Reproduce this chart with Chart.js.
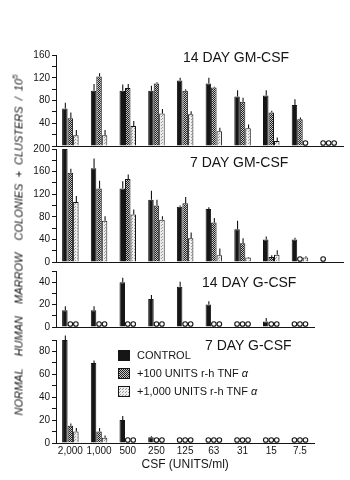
<!DOCTYPE html>
<html><head><meta charset="utf-8">
<script src="https://cdn.jsdelivr.net/npm/chart.js@4.4.1/dist/chart.umd.min.js"></script>
<style>
html,body{margin:0;padding:0;background:#fff;width:350px;height:480px;overflow:hidden;position:relative;font-family:"Liberation Sans",Arial,sans-serif;color:#151515}
canvas{position:absolute;left:0}
.t{position:absolute;font-size:14px;white-space:nowrap;line-height:1;color:#151515}
#ytitle{position:absolute;left:19px;top:245px;transform:translate(-50%,-50%) rotate(-90deg);font-style:italic;font-size:11px;white-space:nowrap;word-spacing:3px;letter-spacing:0;line-height:1}
#ytitle sup{font-size:8px;vertical-align:5px;line-height:0}
</style></head><body>
<canvas id="c1" width="350" height="109" style="top:43px"></canvas>
<canvas id="c2" width="350" height="131" style="top:137px"></canvas>
<canvas id="c3" width="350" height="74" style="top:259px"></canvas>
<canvas id="c4" width="350" height="152" style="top:328px"></canvas>
<div class="t" style="left:183px;top:50px">14 DAY GM-CSF</div>
<div class="t" style="left:190px;top:155px">7 DAY GM-CSF</div>
<div class="t" style="left:202px;top:275px">14 DAY G-CSF</div>
<div class="t" style="left:205px;top:338px">7 DAY G-CSF</div>
<div id="ytitle">NORMAL&nbsp; HUMAN&nbsp; MARROW&nbsp; COLONIES + CLUSTERS / 10<sup>5</sup></div>
<script>
// ---- data ----
const categories = ['2,000','1,000','500','250','125','63','31','15','7.5'];
const categoriesGM = categories.concat(['']); // unlabeled extra dilution in GM-CSF panels
const seriesLabels = ['CONTROL', '+100 UNITS r-h TNF α', '+1,000 UNITS r-h TNF α'];

// 14 day GM-CSF
const gm14Control = [66, 97, 97, 97, 115, 110, 87, 89, 72, 0];
const gm14Tnf100  = [49, 122, 102, 110, 97, 103, 78, 59, 47, 0];
const gm14Tnf1000 = [19, 19, 35, 57, 56, 26, 31, 9, 0, 0];
const gm14ControlErr = [10, 12, 11, 9, 5, 10, 11, 9, 10, 0];
const gm14Tnf100Err  = [10, 6, 7, 2, 3, 1, 7, 3, 3, 0];
const gm14Tnf1000Err = [9, 9, 9, 8, 5, 6, 7, 6, 0, 0];

// 7 day GM-CSF
const gm7Control = [200, 166, 130, 110, 98, 94, 58, 40, 40, 0];
const gm7Tnf100  = [158, 130, 147, 100, 104, 70, 33, 9, 0, null];
const gm7Tnf1000 = [106, 73, 84, 75, 42, 12, 8, 13, 8, null];
const gm7ControlErr = [0, 17, 13, 16, 2, 3, 15, 5, 3, 0];
const gm7Tnf100Err  = [7, 14, 8, 10, 11, 8, 9, 3, 0, 0];
const gm7Tnf1000Err = [11, 8, 9, 6, 10, 12, 1, 8, 2, 0];

// 14 day G-CSF
const g14Control = [15, 15, 40, 25, 36, 20, 0, 5, 0];
const g14Tnf100  = [0, 0, 0, 0, 0, 0, 0, 0, 0];
const g14Tnf1000 = [0, 0, 0, 0, 0, 0, 0, 0, 0];
const g14ControlErr = [3.5, 3.5, 4, 3.5, 4.5, 3, 0, 3, 0];

// 7 day G-CSF
const g7Control = [90, 70, 20, 5, 0, 0, 0, 0, 0];
const g7Tnf100  = [15, 10, 0, 0, 0, 0, 0, 0, 0];
const g7Tnf1000 = [10, 4.5, 0, 0, 0, 0, 0, 0, 0];
const g7ControlErr = [4, 2, 3.5, 1, 0, 0, 0, 0, 0];
const g7Tnf100Err  = [2, 3, 0, 0, 0, 0, 0, 0, 0];
const g7Tnf1000Err = [3, 2, 0, 0, 0, 0, 0, 0, 0];

// y tick labels per panel
const gm14TickLabels = [40, 80, 120, 160];
const gm7TickLabels = [0, 40, 80, 120, 160, 200];
const g14TickLabels = [0, 20, 40];
const g7TickLabels = [0, 20, 40, 60, 80];

// ---- styles ----
const FONT = '"Liberation Sans", Arial, sans-serif';
const INK = '#151515';
function makePattern(kind){
  const c = document.createElement('canvas');
  const x = c.getContext('2d');
  if(kind === 'check'){
    c.width = c.height = 2;
    x.fillStyle = '#c8c8c8'; x.fillRect(0,0,2,2);
    x.fillStyle = '#1e1e1e'; x.fillRect(0,0,1,1); x.fillRect(1,1,1,1);
  } else {
    c.width = c.height = 3;
    x.fillStyle = '#eeeeee'; x.fillRect(0,0,3,3);
    x.fillStyle = '#9a9a9a'; x.fillRect(0,0,1,1); x.fillRect(2,1,1,1);
  }
  return x.createPattern(c, 'repeat');
}
const fillControl = '#161616';
const fillTnf100 = makePattern('check');
const fillTnf1000 = makePattern('dots');

const marksPlugin = {
  id: 'marks',
  afterDatasetsDraw(chart){
    const ctx = chart.ctx, ys = chart.scales.y;
    const base = ys.getPixelForValue(0);
    ctx.save();
    ctx.strokeStyle = INK; ctx.lineWidth = 1.1;
    chart.data.datasets.forEach((ds, di) => {
      const meta = chart.getDatasetMeta(di);
      meta.data.forEach((el, i) => {
        const v = ds.data[i];
        if (v === null || v === undefined) return;
        if (v === 0) {
          ctx.beginPath(); ctx.fillStyle = '#fff';
          ctx.arc(el.x, base - 3, 2.3, 0, Math.PI * 2);
          ctx.fill(); ctx.stroke();
        } else if (ds.errors && ds.errors[i] > 0) {
          const top = ys.getPixelForValue(v + ds.errors[i]);
          ctx.beginPath(); ctx.moveTo(el.x + 0.5, el.y); ctx.lineTo(el.x + 0.5, top); ctx.stroke();
        }
      });
    });
    ctx.restore();
  }
};

const legendPlugin = {
  id: 'boxLegend',
  afterDraw(chart, args, opts){
    if (!opts || !opts.show) return;
    const ctx = chart.ctx;
    ctx.save();
    ctx.font = '11px ' + FONT; ctx.textBaseline = 'middle'; ctx.fillStyle = INK;
    chart.data.datasets.forEach((ds, i) => {
      const y0 = opts.y + i * opts.gap;
      ctx.fillStyle = ds.backgroundColor; ctx.fillRect(opts.x, y0, 12, 11);
      ctx.strokeStyle = INK; ctx.lineWidth = 1; ctx.strokeRect(opts.x + 0.5, y0 + 0.5, 11, 10);
      ctx.fillStyle = INK;
      let txt = ds.label, tail = '';
      if (txt.endsWith('α')) { tail = 'α'; txt = txt.slice(0, -1); }
      ctx.font = '11px ' + FONT;
      ctx.fillText(txt, opts.x + 19, y0 + 6);
      if (tail) {
        const w = ctx.measureText(txt).width;
        ctx.font = 'italic 11px ' + FONT;
        ctx.fillText(tail, opts.x + 19 + w, y0 + 6);
      }
    });
    ctx.restore();
  }
};

function ds(label, data, errors, fill){
  return {
    label, data, errors,
    backgroundColor: fill,
    borderColor: INK,
    borderWidth: c => (c.raw ? 1 : 0),
    borderSkipped: 'bottom',
    categoryPercentage: 0.575,
    barPercentage: 1
  };
}

function makeChart(id, p){
  return new Chart(document.getElementById(id), {
    type: 'bar',
    data: { labels: p.labels, datasets: p.datasets },
    options: {
      responsive: false, animation: false, devicePixelRatio: 1,
      layout: { padding: { top: 12, bottom: p.padBottom, left: 0, right: 350 - (56 + p.labels.length * 28.7) } },
      plugins: { legend: { display: false }, tooltip: { enabled: false }, boxLegend: p.legend || { show: false } },
      scales: {
        x: {
          type: 'category', offset: true,
          grid: { display: false, drawTicks: false },
          border: { display: true, color: INK, width: 1 },
          ticks: { display: !!p.showX, font: { size: 10, family: FONT }, color: INK, padding: 2, maxRotation: 0, autoSkip: false },
          title: { display: !!p.showX, text: 'CSF (UNITS/ml)', font: { size: 12, family: FONT }, color: INK, padding: { top: 0, bottom: 2 } },
          afterFit(s){ s.height = p.xh; s.paddingLeft = 0; s.paddingRight = 0; }
        },
        y: {
          min: 0, max: p.max,
          grid: { drawOnChartArea: false, drawTicks: true, tickLength: 4, color: INK, lineWidth: 1 },
          border: { display: true, color: INK, width: 1 },
          ticks: {
            stepSize: p.step, autoSkip: false, padding: 2,
            font: { size: 10, family: FONT }, color: INK,
            callback: v => (p.tickLabels.includes(v) ? String(v) : '')
          },
          afterFit(s){ s.width = 56; s.paddingTop = 0; s.paddingBottom = 0; }
        }
      }
    },
    plugins: [marksPlugin, legendPlugin]
  });
}

makeChart('c1', {
  labels: categoriesGM, max: 160, step: 20, tickLabels: gm14TickLabels, xh: 0, padBottom: 6,
  datasets: [
    ds(seriesLabels[0], gm14Control, gm14ControlErr, fillControl),
    ds(seriesLabels[1], gm14Tnf100, gm14Tnf100Err, fillTnf100),
    ds(seriesLabels[2], gm14Tnf1000, gm14Tnf1000Err, fillTnf1000)
  ]
});
makeChart('c2', {
  labels: categoriesGM, max: 200, step: 20, tickLabels: gm7TickLabels, xh: 0, padBottom: 6,
  datasets: [
    ds(seriesLabels[0], gm7Control, gm7ControlErr, fillControl),
    ds(seriesLabels[1], gm7Tnf100, gm7Tnf100Err, fillTnf100),
    ds(seriesLabels[2], gm7Tnf1000, gm7Tnf1000Err, fillTnf1000)
  ]
});
makeChart('c3', {
  labels: categories, max: 50, step: 10, tickLabels: g14TickLabels, xh: 0, padBottom: 6,
  datasets: [
    ds(seriesLabels[0], g14Control, g14ControlErr, fillControl),
    ds(seriesLabels[1], g14Tnf100, null, fillTnf100),
    ds(seriesLabels[2], g14Tnf1000, null, fillTnf1000)
  ]
});
makeChart('c4', {
  labels: categories, max: 90, step: 10, tickLabels: g7TickLabels, xh: 31, padBottom: 6, showX: true,
  legend: { show: true, x: 118, y: 22, gap: 18 },
  datasets: [
    ds(seriesLabels[0], g7Control, g7ControlErr, fillControl),
    ds(seriesLabels[1], g7Tnf100, g7Tnf100Err, fillTnf100),
    ds(seriesLabels[2], g7Tnf1000, g7Tnf1000Err, fillTnf1000)
  ]
});
</script>
</body></html>
